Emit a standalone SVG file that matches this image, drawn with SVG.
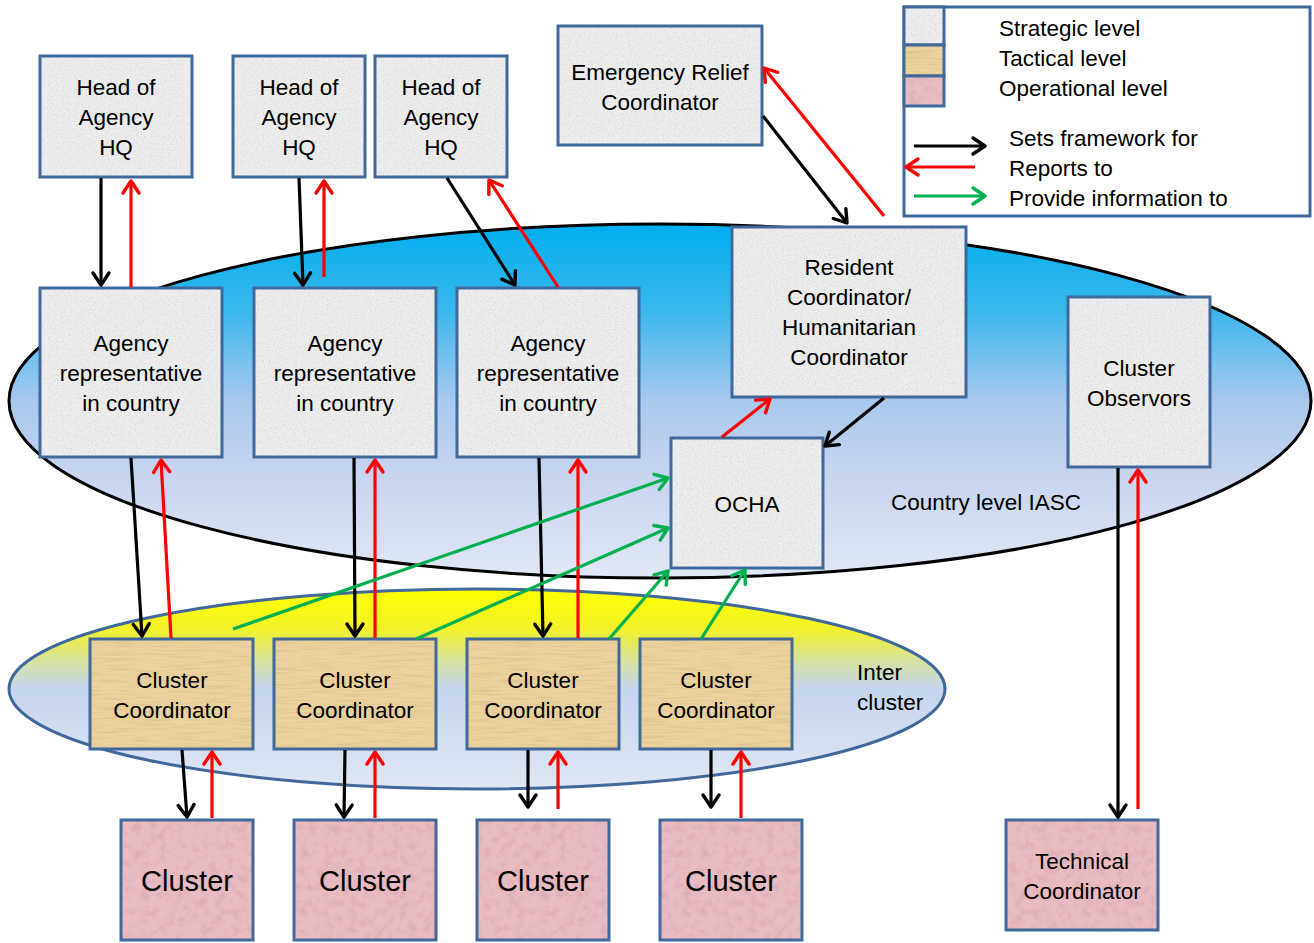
<svg xmlns="http://www.w3.org/2000/svg" width="1314" height="943" viewBox="0 0 1314 943">
<defs>
<style>
.box{stroke:#41689b;stroke-width:3}
.s{fill:url(#pGray)}
.t{fill:url(#pTan)}
.o{fill:url(#pPink)}
text{font-family:"Liberation Sans",Arial,sans-serif;font-size:22.5px;fill:#000}
.c{text-anchor:middle}
.big{font-size:29px}
.k{stroke:#000;stroke-width:3.2;fill:none;marker-end:url(#mk)}
.r{stroke:#ff0000;stroke-width:3.2;fill:none;marker-end:url(#mr)}
.g{stroke:#00b050;stroke-width:3.2;fill:none;marker-end:url(#mg)}
</style>
<filter id="noise" x="0" y="0" width="100%" height="100%">
<feTurbulence type="fractalNoise" baseFrequency="0.85" numOctaves="3" seed="4"/>
<feColorMatrix type="matrix" values="0 0 0 0 0.45  0 0 0 0 0.45  0 0 0 0 0.45  1.0 0 0 0 -0.47"/>
</filter>
<filter id="weave" x="0" y="0" width="100%" height="100%">
<feTurbulence type="fractalNoise" baseFrequency="0.03 0.5" numOctaves="2" seed="7"/>
<feColorMatrix type="matrix" values="0 0 0 0 0.55  0 0 0 0 0.4  0 0 0 0 0.2  1.0 0 0 0 -0.42"/>
</filter>
<filter id="blot" x="0" y="0" width="100%" height="100%">
<feTurbulence type="fractalNoise" baseFrequency="0.12" numOctaves="3" seed="2"/>
<feColorMatrix type="matrix" values="0 0 0 0 0.6  0 0 0 0 0.3  0 0 0 0 0.35  1.0 0 0 0 -0.45"/>
</filter>
<pattern id="pGray" patternUnits="userSpaceOnUse" width="400" height="400">
<rect width="400" height="400" fill="#eeeeee"/>
<rect width="400" height="400" filter="url(#noise)"/>
</pattern>
<pattern id="pTan" patternUnits="userSpaceOnUse" width="400" height="400">
<rect width="400" height="400" fill="#ecd39e"/>
<rect width="400" height="400" filter="url(#weave)"/>
</pattern>
<pattern id="pPink" patternUnits="userSpaceOnUse" width="400" height="400">
<rect width="400" height="400" fill="#e9bcc2"/>
<rect width="400" height="400" filter="url(#blot)"/>
</pattern>
<linearGradient id="gBig" x1="0" y1="0" x2="0" y2="1">
<stop offset="0" stop-color="#00aeef"/>
<stop offset="0.25" stop-color="#3cb8ec"/>
<stop offset="0.5" stop-color="#a9c8ee"/>
<stop offset="0.7" stop-color="#c6d4ef"/>
<stop offset="1" stop-color="#e1e8f5"/>
</linearGradient>
<linearGradient id="gInter" x1="0" y1="0" x2="0" y2="1">
<stop offset="0" stop-color="#ffff00"/>
<stop offset="0.2" stop-color="#f2f22a"/>
<stop offset="0.36" stop-color="#d6e2a0"/>
<stop offset="0.5" stop-color="#c5d5ef"/>
<stop offset="1" stop-color="#e0e7f4"/>
</linearGradient>
<marker id="mk" markerUnits="userSpaceOnUse" markerWidth="20" markerHeight="20" refX="13" refY="9" orient="auto" overflow="visible">
<path d="M1,1 L13,9 L1,17" fill="none" stroke="#000" stroke-width="3.4" stroke-linecap="round" stroke-linejoin="round"/>
</marker>
<marker id="mr" markerUnits="userSpaceOnUse" markerWidth="20" markerHeight="20" refX="13" refY="9" orient="auto" overflow="visible">
<path d="M1,1 L13,9 L1,17" fill="none" stroke="#ff0000" stroke-width="3.4" stroke-linecap="round" stroke-linejoin="round"/>
</marker>
<marker id="mg" markerUnits="userSpaceOnUse" markerWidth="20" markerHeight="20" refX="13" refY="9" orient="auto" overflow="visible">
<path d="M1,1 L13,9 L1,17" fill="none" stroke="#00b050" stroke-width="3.4" stroke-linecap="round" stroke-linejoin="round"/>
</marker>
</defs>
<rect width="1314" height="943" fill="#ffffff"/>

<g id="country-level-iasc">
<ellipse cx="660" cy="401" rx="651" ry="177" fill="url(#gBig)" stroke="#000" stroke-width="3"/>
<text x="986" y="510" class="c">Country level IASC</text>
</g>
<g id="inter-cluster">
<ellipse cx="477" cy="689" rx="468" ry="100" fill="url(#gInter)" stroke="#41689b" stroke-width="3"/>
<text x="857" y="680">Inter</text>
<text x="857" y="710">cluster</text>
</g>

<g id="legend">
<rect x="904" y="7" width="406" height="209" fill="#fff" class="box"/>
<rect x="904" y="7" width="40" height="38" class="box s"/>
<rect x="904" y="45" width="40" height="31" class="box t"/>
<rect x="904" y="76" width="40" height="30" class="box o"/>
<text x="999" y="36">Strategic level</text>
<text x="999" y="66">Tactical level</text>
<text x="999" y="96">Operational level</text>
<line x1="914" y1="146" x2="985" y2="146" class="k"/>
<line x1="975" y1="167" x2="906" y2="167" class="r"/>
<line x1="914" y1="196" x2="985" y2="196" class="g"/>
<text x="1009" y="146">Sets framework for</text>
<text x="1009" y="176">Reports to</text>
<text x="1009" y="206">Provide information to</text>
</g>

<g id="hq1"><rect x="40" y="56" width="152" height="121" class="box s"/>
<text class="c" x="116" y="95">Head of</text><text class="c" x="116" y="125">Agency</text><text class="c" x="116" y="155">HQ</text></g>
<g id="hq2"><rect x="233" y="56" width="132" height="121" class="box s"/>
<text class="c" x="299" y="95">Head of</text><text class="c" x="299" y="125">Agency</text><text class="c" x="299" y="155">HQ</text></g>
<g id="hq3"><rect x="375" y="56" width="132" height="121" class="box s"/>
<text class="c" x="441" y="95">Head of</text><text class="c" x="441" y="125">Agency</text><text class="c" x="441" y="155">HQ</text></g>
<g id="erc"><rect x="558" y="26" width="204" height="119" class="box s"/>
<text class="c" x="660" y="80">Emergency Relief</text><text class="c" x="660" y="110">Coordinator</text></g>

<g id="rep1"><rect x="40" y="288" width="182" height="169" class="box s"/>
<text class="c" x="131" y="351">Agency</text><text class="c" x="131" y="381">representative</text><text class="c" x="131" y="411">in country</text></g>
<g id="rep2"><rect x="254" y="288" width="182" height="169" class="box s"/>
<text class="c" x="345" y="351">Agency</text><text class="c" x="345" y="381">representative</text><text class="c" x="345" y="411">in country</text></g>
<g id="rep3"><rect x="457" y="288" width="182" height="169" class="box s"/>
<text class="c" x="548" y="351">Agency</text><text class="c" x="548" y="381">representative</text><text class="c" x="548" y="411">in country</text></g>
<g id="rc-hc"><rect x="732" y="227" width="234" height="170" class="box s"/>
<text class="c" x="849" y="275">Resident</text><text class="c" x="849" y="305">Coordinator/</text><text class="c" x="849" y="335">Humanitarian</text><text class="c" x="849" y="365">Coordinator</text></g>
<g id="observers"><rect x="1068" y="297" width="142" height="170" class="box s"/>
<text class="c" x="1139" y="376">Cluster</text><text class="c" x="1139" y="406">Observors</text></g>
<g id="ocha"><rect x="671" y="438" width="152" height="130" class="box s"/>
<text class="c" x="747" y="512">OCHA</text></g>

<g id="cc1"><rect x="90" y="639" width="163" height="110" class="box t"/>
<text class="c" x="172" y="688">Cluster</text><text class="c" x="172" y="718">Coordinator</text></g>
<g id="cc2"><rect x="274" y="639" width="162" height="110" class="box t"/>
<text class="c" x="355" y="688">Cluster</text><text class="c" x="355" y="718">Coordinator</text></g>
<g id="cc3"><rect x="467" y="639" width="152" height="110" class="box t"/>
<text class="c" x="543" y="688">Cluster</text><text class="c" x="543" y="718">Coordinator</text></g>
<g id="cc4"><rect x="640" y="639" width="152" height="110" class="box t"/>
<text class="c" x="716" y="688">Cluster</text><text class="c" x="716" y="718">Coordinator</text></g>

<g id="cluster1"><rect x="121" y="820" width="132" height="120" class="box o"/>
<text class="c big" x="187" y="891">Cluster</text></g>
<g id="cluster2"><rect x="294" y="820" width="142" height="120" class="box o"/>
<text class="c big" x="365" y="891">Cluster</text></g>
<g id="cluster3"><rect x="477" y="820" width="132" height="120" class="box o"/>
<text class="c big" x="543" y="891">Cluster</text></g>
<g id="cluster4"><rect x="660" y="820" width="142" height="120" class="box o"/>
<text class="c big" x="731" y="891">Cluster</text></g>
<g id="technical"><rect x="1006" y="820" width="152" height="110" class="box o"/>
<text class="c" x="1082" y="869">Technical</text><text class="c" x="1082" y="899">Coordinator</text></g>

<g id="connectors">
<line x1="101" y1="178" x2="101" y2="285" class="k"/>
<line x1="299" y1="178" x2="303" y2="285" class="k"/>
<line x1="447" y1="178" x2="515" y2="285" class="k"/>
<line x1="763" y1="116" x2="847" y2="223" class="k"/>
<line x1="884" y1="398" x2="825" y2="446" class="k"/>
<line x1="131" y1="458" x2="142" y2="636" class="k"/>
<line x1="354" y1="458" x2="355" y2="636" class="k"/>
<line x1="539" y1="458" x2="543" y2="636" class="k"/>
<line x1="182" y1="750" x2="187" y2="817" class="k"/>
<line x1="345" y1="750" x2="344" y2="817" class="k"/>
<line x1="528" y1="750" x2="528" y2="807" class="k"/>
<line x1="711" y1="750" x2="711" y2="807" class="k"/>
<line x1="1118" y1="468" x2="1118" y2="817" class="k"/>

<line x1="131" y1="287" x2="131" y2="181" class="r"/>
<line x1="324" y1="277" x2="324" y2="181" class="r"/>
<line x1="558" y1="287" x2="489" y2="180" class="r"/>
<line x1="884" y1="216" x2="764" y2="68" class="r"/>
<line x1="722" y1="437" x2="770" y2="399" class="r"/>
<line x1="171" y1="638" x2="161" y2="460" class="r"/>
<line x1="375" y1="638" x2="375" y2="460" class="r"/>
<line x1="578" y1="638" x2="578" y2="460" class="r"/>
<line x1="212" y1="818" x2="212" y2="752" class="r"/>
<line x1="375" y1="818" x2="375" y2="752" class="r"/>
<line x1="558" y1="809" x2="558" y2="752" class="r"/>
<line x1="741" y1="818" x2="741" y2="752" class="r"/>
<line x1="1138" y1="809" x2="1138" y2="470" class="r"/>

<line x1="233" y1="629" x2="668" y2="478" class="g"/>
<line x1="416" y1="639" x2="668" y2="528" class="g"/>
<line x1="609" y1="639" x2="668" y2="571" class="g"/>
<line x1="701" y1="639" x2="745" y2="570" class="g"/>
</g>
</svg>
